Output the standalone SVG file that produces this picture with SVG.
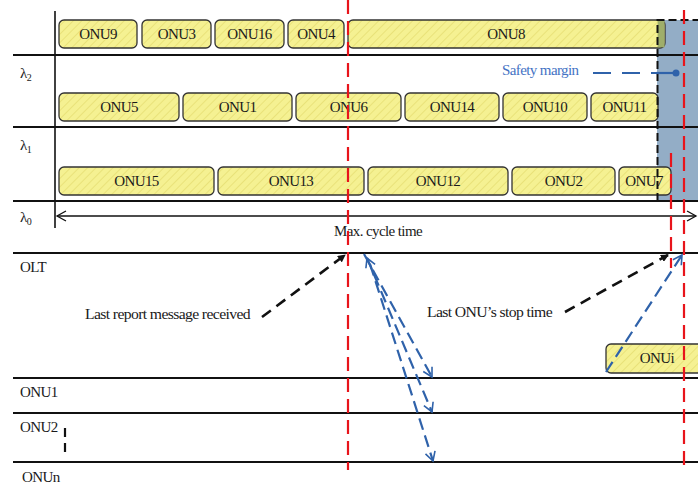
<svg xmlns="http://www.w3.org/2000/svg" width="698" height="484" viewBox="0 0 698 484">
<style>
  text{font-family:"Liberation Serif","Times New Roman",serif}
  .t{font-family:"Liberation Serif","Times New Roman",serif;font-size:15px;fill:#1a1a1a;letter-spacing:-0.6px}
  .c{text-anchor:middle}
  .box rect{fill:url(#hatch);stroke:#333;stroke-width:1.3}
  .sep{stroke:#111;stroke-width:2.2}
  .red{stroke:#e8141b;stroke-width:2.2;stroke-dasharray:14 7;fill:none}
  .bk{stroke:#111;stroke-width:2.6;stroke-dasharray:11 7;fill:none}
  .bl{stroke:#2f62aa;stroke-width:2.2;stroke-dasharray:12 6;fill:none}
</style>
<defs>
  <pattern id="hatch" width="6" height="6" patternUnits="userSpaceOnUse" patternTransform="rotate(45)">
    <rect width="6" height="6" fill="#f5f192"/>
    <line x1="0" y1="0" x2="0" y2="6" stroke="#e9e27a" stroke-width="2"/>
  </pattern>
  <marker id="ab" markerWidth="8" markerHeight="8" refX="7" refY="4" orient="auto" markerUnits="userSpaceOnUse" viewBox="0 0 8 8">
    <path d="M0,0 L8,4 L0,8 Z" fill="#111"/>
  </marker>
  <marker id="av" markerWidth="12" markerHeight="12" refX="10" refY="6" orient="auto" markerUnits="userSpaceOnUse" viewBox="0 0 12 12">
    <path d="M1,1 L10,6 L1,11" fill="none" stroke="#2f62aa" stroke-width="1.6"/>
  </marker>
  <marker id="avs" markerWidth="12" markerHeight="12" refX="2" refY="6" orient="auto" markerUnits="userSpaceOnUse" viewBox="0 0 12 12">
    <path d="M11,1 L2,6 L11,11" fill="none" stroke="#2f62aa" stroke-width="1.6"/>
  </marker>
  <marker id="ok" markerWidth="12" markerHeight="12" refX="10" refY="6" orient="auto" markerUnits="userSpaceOnUse" viewBox="0 0 12 12">
    <path d="M1,1 L10,6 L1,11" fill="none" stroke="#111" stroke-width="1.3"/>
  </marker>
  <marker id="oks" markerWidth="12" markerHeight="12" refX="2" refY="6" orient="auto" markerUnits="userSpaceOnUse" viewBox="0 0 12 12">
    <path d="M11,1 L2,6 L11,11" fill="none" stroke="#111" stroke-width="1.3"/>
  </marker>
</defs>
<rect width="698" height="484" fill="#fff"/>

<!-- safety margin shaded region -->
<rect x="657" y="20" width="41" height="181" fill="#93adc6"/>

<!-- axes / separators -->
<g id="axes">
  <line x1="55" y1="11" x2="55" y2="228" stroke="#111" stroke-width="1.6"/>
  <line class="sep" x1="13" y1="55" x2="698" y2="55"/>
  <line class="sep" x1="13" y1="127" x2="698" y2="127"/>
  <line class="sep" x1="13" y1="201" x2="698" y2="201"/>
  <line x1="57" y1="216" x2="696" y2="216" stroke="#111" stroke-width="1.3" marker-start="url(#oks)" marker-end="url(#ok)"/>
  <line class="sep" x1="13" y1="253" x2="698" y2="253"/>
  <line class="sep" x1="13" y1="378" x2="698" y2="378"/>
  <line class="sep" x1="13" y1="413" x2="698" y2="413"/>
  <line class="sep" x1="13" y1="462" x2="698" y2="462"/>
</g>

<!-- labels -->
<g id="labels" font-family="Liberation Serif, serif">
  <text class="t" x="20" y="78">λ<tspan font-size="10" dy="3">2</tspan></text>
  <text class="t" x="20" y="150">λ<tspan font-size="10" dy="3">1</tspan></text>
  <text class="t" x="20" y="222">λ<tspan font-size="10" dy="3">0</tspan></text>
  <text class="t c" x="378" y="236">Max. cycle time</text>
  <text class="t" x="20" y="272">OLT</text>
  <text class="t" x="20" y="397">ONU1</text>
  <text class="t" x="20" y="432">ONU2</text>
  <text class="t" x="22" y="482">ONUn</text>
  <text class="t" x="85" y="319" textLength="165" lengthAdjust="spacingAndGlyphs">Last report message received</text>
  <text class="t" x="427" y="317" textLength="125" lengthAdjust="spacingAndGlyphs">Last ONU’s stop time</text>
  <text class="t" x="502" y="75" style="fill:#4472c4">Safety margin</text>
</g>

<!-- row lambda (top) -->
<g id="onu9" class="box"><rect x="59" y="20" width="78" height="28" rx="5"/><text class="t c" x="98" y="39">ONU9</text></g>
<g id="onu3" class="box"><rect x="142" y="20" width="69" height="28" rx="5"/><text class="t c" x="176.5" y="39">ONU3</text></g>
<g id="onu16" class="box"><rect x="215" y="20" width="69" height="28" rx="5"/><text class="t c" x="249.5" y="39">ONU16</text></g>
<g id="onu4" class="box"><rect x="288" y="20" width="56" height="28" rx="5"/><text class="t c" x="316" y="39">ONU4</text></g>
<g id="onu8" class="box"><rect x="348" y="20" width="317" height="28" rx="5"/><text class="t c" x="506" y="39">ONU8</text></g>
<rect x="657.6" y="20.7" width="7" height="26.6" fill="#9fae6a"/>

<!-- row lambda2 -->
<g id="onu5" class="box"><rect x="59" y="93" width="120" height="28" rx="5"/><text class="t c" x="119" y="112">ONU5</text></g>
<g id="onu1" class="box"><rect x="183" y="93" width="109" height="28" rx="5"/><text class="t c" x="237.5" y="112">ONU1</text></g>
<g id="onu6" class="box"><rect x="296" y="93" width="105" height="28" rx="5"/><text class="t c" x="348.5" y="112">ONU6</text></g>
<g id="onu14" class="box"><rect x="405" y="93" width="94" height="28" rx="5"/><text class="t c" x="452" y="112">ONU14</text></g>
<g id="onu10" class="box"><rect x="503" y="93" width="84" height="28" rx="5"/><text class="t c" x="545" y="112">ONU10</text></g>
<g id="onu11" class="box"><rect x="591" y="93" width="67" height="28" rx="5"/><text class="t c" x="624.5" y="112">ONU11</text></g>

<!-- row lambda1 -->
<g id="onu15" class="box"><rect x="59" y="167" width="155" height="28" rx="5"/><text class="t c" x="136.5" y="186">ONU15</text></g>
<g id="onu13" class="box"><rect x="218" y="167" width="146" height="28" rx="5"/><text class="t c" x="291" y="186">ONU13</text></g>
<g id="onu12" class="box"><rect x="368" y="167" width="140" height="28" rx="5"/><text class="t c" x="438" y="186">ONU12</text></g>
<g id="onu2" class="box"><rect x="512" y="167" width="103" height="28" rx="5"/><text class="t c" x="563.5" y="186">ONU2</text></g>
<g id="onu7" class="box"><rect x="619" y="167" width="52" height="28" rx="5"/><text class="t c" x="644" y="186">ONU7</text></g>

<!-- ONUi -->
<g id="onui" class="box"><rect x="606" y="344" width="100" height="29" rx="5"/><text class="t c" x="657" y="363">ONUi</text></g>

<!-- safety margin border -->
<path d="M657.5,201 V20 H698" fill="none" stroke="#111" stroke-width="2" stroke-dasharray="8 4"/>

<!-- connectors -->
<g id="connectors">
  <line class="red" x1="348" y1="0" x2="348" y2="470"/>
  <line class="red" x1="684" y1="10" x2="684" y2="470"/>
  <line class="red" x1="671" y1="153" x2="671" y2="268"/>
  <line class="bk" x1="262" y1="317" x2="345" y2="255" marker-end="url(#ab)"/>
  <line class="bk" x1="565" y1="312" x2="668" y2="255" marker-end="url(#ab)"/>
  <line x1="65" y1="428" x2="65" y2="455" stroke="#111" stroke-width="2.2" stroke-dasharray="9 6"/>
  <line x1="593" y1="73" x2="673" y2="73" stroke="#2f62aa" stroke-width="2.2" stroke-dasharray="18 11"/>
  <line x1="656" y1="73" x2="673" y2="73" stroke="#2f62aa" stroke-width="2.2"/>
  <circle cx="676" cy="73" r="3.5" fill="#2f62aa"/>
  <line class="bl" x1="364" y1="254" x2="432" y2="377" marker-end="url(#av)"/>
  <line class="bl" x1="367" y1="258" x2="432" y2="412" marker-start="url(#avs)" marker-end="url(#av)"/>
  <line class="bl" x1="370" y1="264" x2="433" y2="461" marker-end="url(#av)"/>
  <line class="bl" x1="606" y1="372" x2="682" y2="255" marker-end="url(#av)"/>
</g>
</svg>
